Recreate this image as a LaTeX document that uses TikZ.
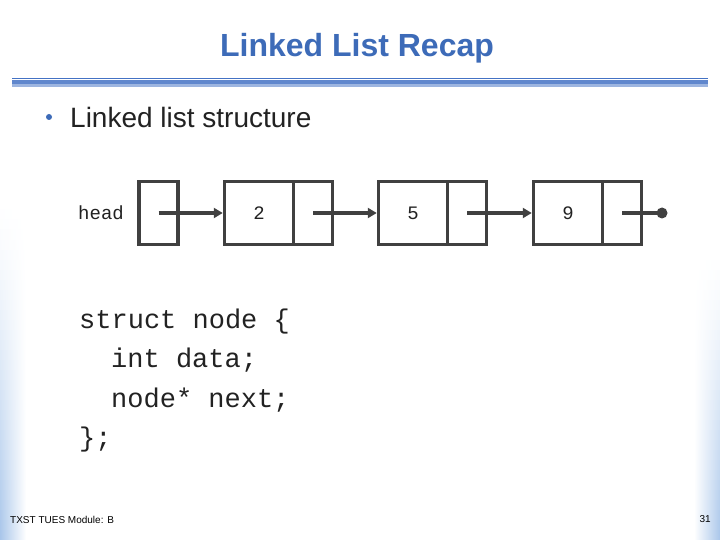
\documentclass[tikz,border=0pt]{standalone}
\usepackage{fontspec}
\setmainfont{Liberation Sans}
\newfontfamily\codefont{Liberation Mono}
\usetikzlibrary{arrows.meta}
\definecolor{titleblue}{HTML}{3D6BB8}
\definecolor{ruleblue}{HTML}{4472C4}
\definecolor{rulelight}{HTML}{9DB5E0}
\definecolor{edgeblue}{HTML}{A9C6EA}
\definecolor{linegray}{HTML}{404040}
\definecolor{textgray}{HTML}{222222}
\tikzset{
  cell/.style={draw=linegray, line width=3.5pt, inner sep=0pt, minimum height=63pt, fill=white},
  datacell/.style={cell, minimum width=69pt, font=\codefont\fontsize{19}{19}\selectfont, text=textgray},
  nextcell/.style={cell, minimum width=39pt},
  ptr/.style={draw=linegray, line width=3.5pt, -{Triangle[length=9pt,width=10pt]}},
  codeline/.style={anchor=base west, inner sep=0pt, font=\codefont\fontsize{27}{27}\selectfont, text=textgray}
}
\begin{document}
\begin{tikzpicture}[x=1pt,y=-1pt]
\useasboundingbox (0,0) rectangle (720,540);
\fill[white] (0,0) rectangle (720,540);
% side shading (stacked bands, stronger toward the bottom)
\foreach \i in {0,...,33} {
  \pgfmathsetmacro{\p}{100*(\i/33)^1.3}
  \fill[left color=edgeblue!\p!white, right color=white] (0,200+\i*10) rectangle (26,210.5+\i*10);
}
\foreach \i in {0,...,28} {
  \pgfmathsetmacro{\p}{100*(\i/28)^1.3}
  \fill[left color=white, right color=edgeblue!\p!white] (694,250+\i*10) rectangle (720,260.5+\i*10);
}
% title
\node[text=titleblue, font=\bfseries\fontsize{32}{32}\selectfont, inner sep=0pt] (title) at (357,48) {Linked List Recap};
% rule
\fill[ruleblue] (12,78) rectangle (708,79.5);
\fill[ruleblue!85!white] (12,80.5) rectangle (708,84);
\fill[rulelight] (12,84) rectangle (708,87);
% bullet
\fill[titleblue] (49,117) circle (3pt);
\coordinate (bullet) at (49,117);
\node[anchor=west, text=textgray, font=\fontsize{28}{28}\selectfont, inner sep=0pt] (sub) at (70,117) {Linked list structure};
% list
\node[anchor=west, inner sep=0pt, font=\codefont\fontsize{19}{19}\selectfont, text=textgray] (headlbl) at (78,213) {head};
\node[nextcell] (head) at (158.5,213) {};
\node[datacell] (d1) at (259,213) {2};
\node[nextcell] (n1) at (313,213) {};
\node[datacell] (d2) at (413,213) {5};
\node[nextcell] (n2) at (467,213) {};
\node[datacell] (d3) at (568,213) {9};
\node[nextcell] (n3) at (622,213) {};
\coordinate (nullend) at (662,213);
\draw[ptr] (head.center) -- (d1.west);
\draw[ptr] (n1.center) -- (d2.west);
\draw[ptr] (n2.center) -- (d3.west);
\draw[draw=linegray, line width=3.5pt] (n3.center) -- (nullend);
\fill[linegray] (nullend) circle (5.5pt);
% code
\node[codeline] (c1) at (79,328) {struct node \{};
\node[codeline] (c2) at (111,367.5) {int data;};
\node[codeline] (c3) at (111,407) {node* next;};
\node[codeline] (c4) at (79,446.5) {\};};
% footer
\node[anchor=west, inner sep=0pt, font=\fontsize{10}{10}\selectfont] (foot) at (10,520) {TXST TUES Module: B};
\node[anchor=east, inner sep=0pt, font=\fontsize{10}{10}\selectfont] (page) at (711,519) {31};
\end{tikzpicture}
\end{document}
